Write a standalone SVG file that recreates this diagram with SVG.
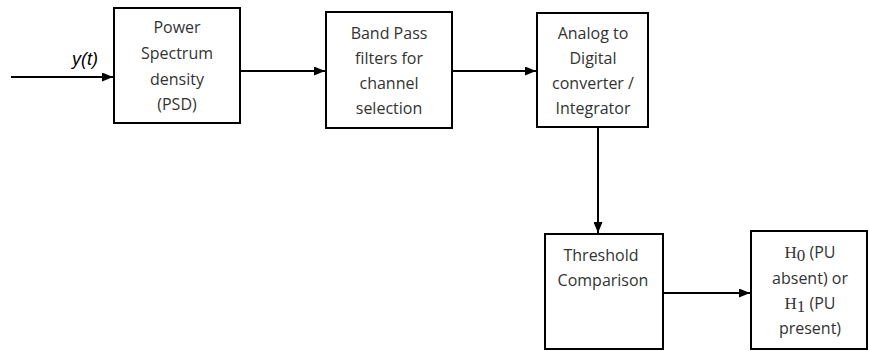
<svg xmlns="http://www.w3.org/2000/svg" width="869" height="351" viewBox="0 0 869 351">
<style>
.box{fill:#fff;stroke:#000;stroke-width:2}
.ln{stroke:#000;stroke-width:2;fill:none}
.t{font-family:"Open Sans","Liberation Sans",sans-serif;font-size:16px;fill:#333;text-anchor:middle}
.m{font-family:"Liberation Serif",serif;font-size:17px}
.lbl{font-family:"Liberation Sans",Arial,sans-serif;font-size:18px;font-style:italic;fill:#000}
</style>
<defs>
<marker id="ah" markerWidth="11" markerHeight="9" refX="11" refY="4.5" orient="auto" markerUnits="userSpaceOnUse">
<path d="M0,0 L11,4.5 L0,9 Z" fill="#000"/>
</marker>
</defs>
<rect width="869" height="351" fill="#fff"/>
<g id="connectors">
<line class="ln" x1="11" y1="77" x2="113" y2="77" marker-end="url(#ah)"/>
<line class="ln" x1="240" y1="71" x2="325" y2="71" marker-end="url(#ah)"/>
<line class="ln" x1="452" y1="71" x2="536" y2="71" marker-end="url(#ah)"/>
<line class="ln" x1="598" y1="127" x2="598" y2="233" marker-end="url(#ah)"/>
<line class="ln" x1="663" y1="293" x2="750" y2="293" marker-end="url(#ah)"/>
<text class="lbl" x="85" y="65" text-anchor="middle">y(t)</text>
</g>
<g id="psd">
<rect class="box" x="114" y="8" width="126" height="115"/>
<text class="t" x="177" y="33">Power</text>
<text class="t" x="177" y="59">Spectrum</text>
<text class="t" x="177" y="85">density</text>
<text class="t" x="177" y="110">(PSD)</text>
</g>
<g id="bpf">
<rect class="box" x="326" y="12" width="126" height="116"/>
<text class="t" x="389" y="39">Band Pass</text>
<text class="t" x="389" y="64">filters for</text>
<text class="t" x="389" y="89">channel</text>
<text class="t" x="389" y="114">selection</text>
</g>
<g id="adc">
<rect class="box" x="537" y="13" width="111" height="114"/>
<text class="t" x="593" y="39">Analog to</text>
<text class="t" x="593" y="64">Digital</text>
<text class="t" x="593" y="89">converter /</text>
<text class="t" x="593" y="114">Integrator</text>
</g>
<g id="threshold">
<rect class="box" x="545" y="234" width="118" height="115"/>
<text class="t" x="601" y="261">Threshold</text>
<text class="t" x="603" y="286">Comparison</text>
</g>
<g id="decision">
<rect class="box" x="751" y="231" width="116" height="118"/>
<text class="t" x="810" y="258"><tspan class="m">H</tspan><tspan class="m" font-size="13" dy="3">0</tspan><tspan dy="-3"> (PU</tspan></text>
<text class="t" x="810" y="284">absent) or</text>
<text class="t" x="810" y="309"><tspan class="m">H</tspan><tspan class="m" font-size="13" dy="3">1</tspan><tspan dy="-3"> (PU</tspan></text>
<text class="t" x="810" y="334">present)</text>
</g>
</svg>
